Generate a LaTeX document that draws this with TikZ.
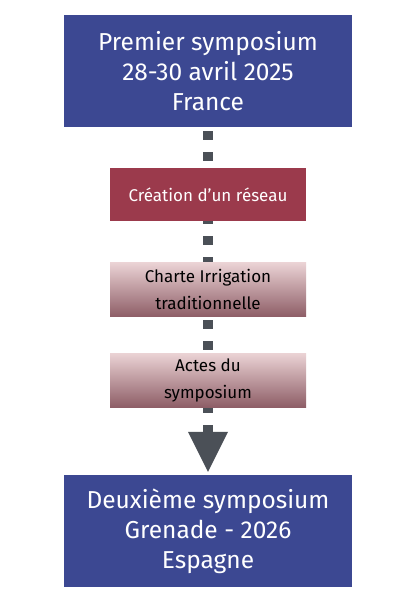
\documentclass[tikz,border=0pt]{standalone}
\usepackage{fontspec}
\setmainfont{Fira Sans}
\usetikzlibrary{arrows.meta,backgrounds}
\definecolor{symblue}{HTML}{3C4892}
\definecolor{netred}{HTML}{9B3A4C}
\definecolor{pinktop}{HTML}{EBD3D5}
\definecolor{pinkbot}{HTML}{8E5E67}
\definecolor{linkgray}{HTML}{4B5057}
\tikzset{
  bigbox/.style={rectangle, fill=symblue, text=white, minimum width=288pt, minimum height=112pt,
    inner sep=0pt, align=center, font=\fontsize{24.5}{30}\selectfont},
  redbox/.style={rectangle, fill=netred, text=white, minimum width=196pt, minimum height=53pt,
    inner sep=0pt, align=center, font=\fontsize{17}{27}\selectfont},
  pinkbox/.style={rectangle, top color=pinktop, bottom color=pinkbot, text=black, minimum width=196pt, minimum height=54pt,
    inner sep=0pt, align=center, font=\fontsize{17}{27}\selectfont},
  link/.style={draw=linkgray, line width=10pt, dash pattern=on 9pt off 12pt, dash phase=17pt,
    -{Triangle[width=40pt,length=40pt,line width=0pt,fill=linkgray]}, shorten >=3pt}
}
\begin{document}
\begin{tikzpicture}[x=1pt,y=-1pt]
\useasboundingbox (0,0) rectangle (419,600);
\node[bigbox] (first) at (208,71) {Premier symposium\\28-30 avril 2025\\France};
\node[redbox] (net) at (208,194.5) {Création d’un réseau};
\node[pinkbox] (charter) at (208,289.5) {Charte Irrigation\\traditionnelle};
\node[pinkbox] (acts) at (208,380) {Actes du\\symposium};
\node[bigbox] (second) at (208,531) {Deuxième symposium\\Grenade - 2026\\Espagne};
\begin{scope}[on background layer]
\fill[white] (0,0) rectangle (419,600);
\draw[link] (first.south) -- (second.north);
\end{scope}
\end{tikzpicture}
\end{document}
